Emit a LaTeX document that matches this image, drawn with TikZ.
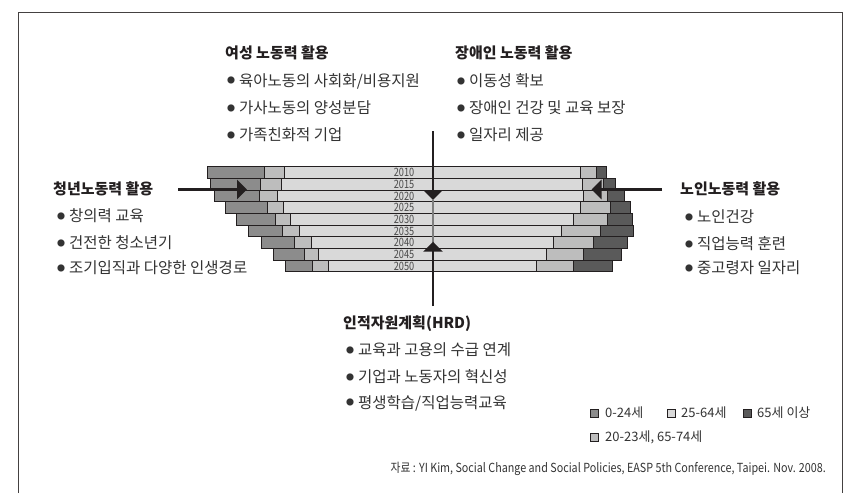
\documentclass[tikz,border=0pt]{standalone}
\usepackage{fontspec}
\setmainfont{Noto Sans CJK KR}
\newfontfamily\condfont[FakeStretch=0.8]{Noto Sans CJK KR}
\newfontfamily\srcfont[FakeStretch=0.86]{Noto Sans CJK KR}
\usetikzlibrary{arrows.meta}
\definecolor{cA}{HTML}{8C8C8C}
\definecolor{cB}{HTML}{BDBDBD}
\definecolor{cC}{HTML}{D9D9D9}
\definecolor{cD}{HTML}{5A5A5A}
\definecolor{ink}{HTML}{231F20}
\definecolor{txt}{HTML}{333333}
\definecolor{yrc}{HTML}{4A4A4A}
\newcommand\mybul{\raisebox{2.4pt}{\fontsize{8}{8}\selectfont ●}\hspace{4pt}}
\tikzset{
  ttl/.style={anchor=west, inner sep=0pt, text=ink, font=\fontsize{15}{18}\selectfont\bfseries},
  itm/.style={anchor=west, inner sep=0pt, text=txt, font=\fontsize{15.5}{18}\selectfont},
  seg/.style={draw=ink, line width=0.8pt},
  yrlab/.style={inner sep=0pt, text=yrc, font=\condfont\fontsize{11.5}{12}\selectfont},
  bigarrow/.style={draw=ink, line width=2.3pt, -{Triangle[length=10pt,width=19pt]}},
  legsq/.style={draw=ink, line width=0.8pt, minimum size=8pt, inner sep=0pt},
  legtx/.style={anchor=west, inner sep=0pt, text=txt, font=\fontsize{13}{15}\selectfont},
  srctx/.style={anchor=east, inner sep=0pt, text=txt, font=\srcfont\fontsize{12.5}{14}\selectfont}
}
\begin{document}
\begin{tikzpicture}[x=1pt,y=-1pt]
\useasboundingbox (0,0) rectangle (848,493);
\fill[white] (0,0) rectangle (848,493);
% frame
\draw[draw=ink!85, line width=1pt] (18,493) -- (18,12.5) -- (842,12.5) -- (842,493);

% bars
\foreach \yr/\a/\b/\c/\d/\e/\f [count=\i from 0] in {
 2010/207.7/264.3/284.3/580.7/596/606.7,
 2015/210/260/281.7/582.3/603.3/615.7,
 2020/214/259.3/277.3/583.3/607.3/624,
 2025/225/267.7/283.7/580/610.7/630,
 2030/236/275.7/290.3/573.3/607.3/632.7,
 2035/248.3/282.3/299/561.7/600.7/633.3,
 2040/261.7/294.3/311/553.3/593.3/627.3,
 2045/273.3/304.3/318.3/546/583.3/621.7,
 2050/285/312.3/328.3/536.7/573.3/612.7}{
  \pgfmathsetmacro\yt{166.7+\i*11.67}
  \pgfmathsetmacro\yb{\yt+11.67}
  \filldraw[seg, fill=cA] (\a,\yt) rectangle (\b,\yb);
  \filldraw[seg, fill=cB] (\b,\yt) rectangle (\c,\yb);
  \filldraw[seg, fill=cC] (\c,\yt) rectangle (\d,\yb);
  \filldraw[seg, fill=cB] (\d,\yt) rectangle (\e,\yb);
  \filldraw[seg, fill=cD] (\e,\yt) rectangle (\f,\yb);
  \node[yrlab] (yr\i) at (404,\yt+5.9) {\yr};
}

% arrows
\coordinate (vtopS) at (433,131);
\coordinate (vtopE) at (433,200);
\coordinate (vbotS) at (433,306);
\coordinate (vbotE) at (433,241.7);
\draw[draw=cA!90!black, line width=2pt] (vtopE) -- (vbotE);
\draw[bigarrow] (vtopS) -- (vtopE);
\draw[bigarrow] (vbotS) -- (vbotE);
\coordinate (lS) at (178,189.5);
\coordinate (lE) at (247,189.5);
\draw[bigarrow] (lS) -- (lE);
\coordinate (rS) at (662,189.5);
\coordinate (rE) at (591.5,189.5);
\draw[bigarrow] (rS) -- (rE);

% top-left group
\node[ttl] (tw) at (225,53) {여성 노동력 활용};
\node[itm] (tw1) at (227,81) {\mybul 육아노동의 사회화/비용지원};
\node[itm] (tw2) at (227,108) {\mybul 가사노동의 양성분담};
\node[itm] (tw3) at (227,135) {\mybul 가족친화적 기업};

% top-right group
\node[ttl] (td) at (455,53) {장애인 노동력 활용};
\node[itm] (td1) at (457,81) {\mybul 이동성 확보};
\node[itm] (td2) at (457,108) {\mybul 장애인 건강 및 교육 보장};
\node[itm] (td3) at (457,135) {\mybul 일자리 제공};

% left group
\node[ttl] (ty) at (53,189) {청년노동력 활용};
\node[itm] (ty1) at (57,216) {\mybul 창의력 교육};
\node[itm] (ty2) at (57,243) {\mybul 건전한 청소년기};
\node[itm] (ty3) at (57,268) {\mybul 조기입직과 다양한 인생경로};

% right group
\node[ttl] (to) at (680,189) {노인노동력 활용};
\node[itm] (to1) at (685,217) {\mybul 노인건강};
\node[itm] (to2) at (685,244) {\mybul 직업능력 훈련};
\node[itm] (to3) at (685,268) {\mybul 중고령자 일자리};

% bottom group
\node[ttl] (th) at (343,324) {인적자원계획(HRD)};
\node[itm] (th1) at (346,350) {\mybul 교육과 고용의 수급 연계};
\node[itm] (th2) at (346,377) {\mybul 기업과 노동자의 혁신성};
\node[itm] (th3) at (346,403) {\mybul 평생학습/직업능력교육};

% legend
\node[legsq, fill=cA] (lq1) at (594,413) {};
\node[legtx] (lt1) at (605,413) {0-24세};
\node[legsq, fill=cC] (lq2) at (671,413) {};
\node[legtx] (lt2) at (681,413) {25-64세};
\node[legsq, fill=cD] (lq3) at (747,413) {};
\node[legtx] (lt3) at (757,413) {65세 이상};
\node[legsq, fill=cB] (lq4) at (594,437) {};
\node[legtx] (lt4) at (605,437) {20-23세, 65-74세};

% source
\node[srctx] (src) at (826,469) {자료 : YI Kim, Social Change and Social Policies, EASP 5th Conference, Taipei. Nov. 2008.};
\end{tikzpicture}
\end{document}
